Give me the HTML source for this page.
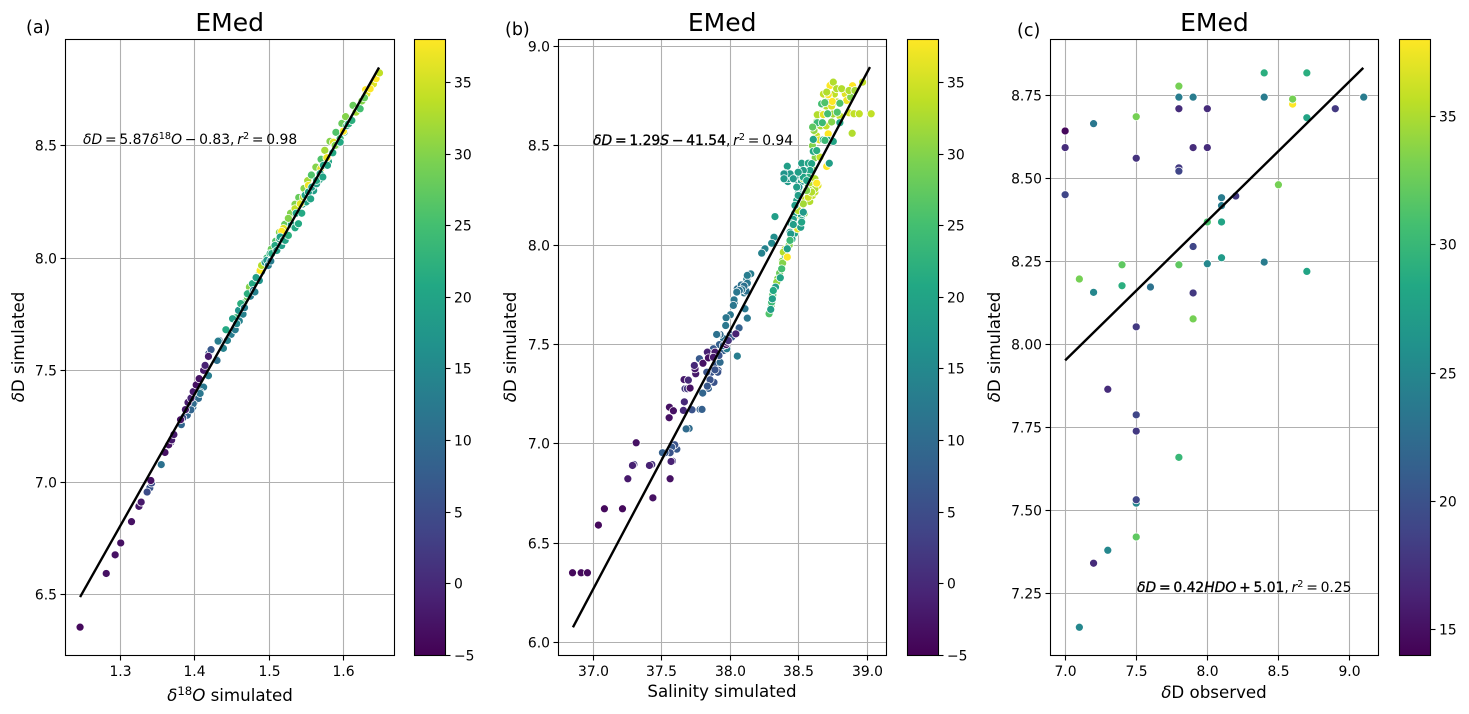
<!DOCTYPE html>
<html lang="en">
<head>
<meta charset="utf-8">
<title>EMed isotope scatter panels</title>
<style>
html,body{margin:0;padding:0;background:#fff;width:1469px;height:714px;overflow:hidden}
svg{display:block;font-family:"DejaVu Sans","Liberation Sans",sans-serif;fill:#000}
.title{font-size:25px;text-anchor:middle}
.axl{font-size:16.67px;text-anchor:middle}
.pl{font-size:17.5px}
.ann{font-size:13.89px;word-spacing:-1.64px}
.b{stroke:#000;stroke-width:.3}
.i{font-style:italic}
.tk{font-size:13.89px}
</style>
</head>
<body>
<svg id="chart" width="1469" height="714" viewBox="0 0 1469 714" xmlns="http://www.w3.org/2000/svg">
<defs>
<linearGradient id="viridis" x1="0" y1="1" x2="0" y2="0"></linearGradient>
</defs>
<g id="layer-marks"></g>

<text class="pl" x="26" y="33">(a)</text>
<text class="pl" x="505" y="35">(b)</text>
<text class="pl" x="1017" y="36">(c)</text>

<text class="title" x="229.7" y="31">EMed</text>
<text class="title" x="722.2" y="31">EMed</text>
<text class="title" x="1214.4" y="31">EMed</text>

<text class="axl" x="230" y="701"><tspan class="i">δ</tspan><tspan dy="-6" font-size="11.7">18</tspan><tspan dy="6" class="i">O</tspan> simulated</text>
<text class="axl" x="722" y="697">Salinity simulated</text>
<text class="axl" x="1214" y="698"><tspan class="i">δ</tspan>D observed</text>

<text class="axl" transform="translate(24,347) rotate(-90)"><tspan class="i">δ</tspan>D simulated</text>
<text class="axl" transform="translate(516,347) rotate(-90)"><tspan class="i">δ</tspan>D simulated</text>
<text class="axl" transform="translate(1000,347) rotate(-90)"><tspan class="i">δ</tspan>D simulated</text>

<text class="ann" x="83" y="144"><tspan class="i">δD</tspan> = 5.87<tspan class="i">δ</tspan><tspan dy="-5" font-size="9.7">18</tspan><tspan dy="5" class="i">O</tspan> − 0.83, <tspan class="i">r</tspan><tspan dy="-5" font-size="9.7">2</tspan><tspan dy="5"> = 0.98</tspan></text>
<text class="ann" x="593" y="145"><tspan class="b"><tspan class="i">δD</tspan> = 1.29<tspan class="i">S</tspan> − 41.54</tspan>, <tspan class="i">r</tspan><tspan dy="-5" font-size="9.7">2</tspan><tspan dy="5"> = 0.94</tspan></text>
<text class="ann" x="1137" y="592"><tspan class="b"><tspan class="i">δD</tspan> = 0.42<tspan class="i">HDO</tspan> + 5.01</tspan>, <tspan class="i">r</tspan><tspan dy="-5" font-size="9.7">2</tspan><tspan dy="5"> = 0.25</tspan></text>
</svg>

<script>
// ---------- Panel (a) data ----------
const aO18 = [
1.456,1.461,1.466,1.471,1.476,1.4815,1.486,1.492,1.497,1.503,
1.509,1.514,1.521,1.529,1.535,1.54,1.547,1.552,1.557,1.563,
1.57,1.575,1.582,1.59,1.598,1.603,1.613,1.625,1.63,1.522,
1.53,1.545,1.55,1.56,1.568,1.58,1.59,1.601,1.503,1.512,
1.49,1.487,1.475,1.465,1.46,1.449,1.4,1.41,1.405,1.39,
1.4736,1.4826,1.5194,1.526,1.535,1.542,1.5463,1.553,1.5697,1.5778,
1.5867,1.589,1.6,1.619,1.617,1.6316,1.6405,1.636,1.644,1.6486,
1.488,1.490,1.517,1.442,1.451,1.459,1.462,1.467,1.470,1.471,
1.4777,1.479,1.481,1.4826,1.4947,1.497,1.499,1.5024,1.5015,1.5038,
1.508,1.5105,1.514,1.515,1.517,1.5194,1.5217,1.526,1.535,1.5396,
1.5365,1.544,1.5486,1.553,1.556,1.5576,1.564,1.564,1.5688,1.5724,
1.5732,1.5786,1.5858,1.5957,1.5957,1.6047,1.607,1.6114,1.6226,1.6284,
1.4545,1.4566,1.444,1.433,1.438,1.4386,1.4315,1.430,1.43,1.4185,
1.412,1.4075,1.4073,1.3975,1.398,1.395,1.382,1.384,1.355,1.422,
1.419,1.422,1.3396,1.336,1.342,1.368,1.2458,1.281,1.293,1.3005,
1.315,1.325,1.328,1.341,1.360,1.365,1.369,1.372,1.381,1.3875,
1.391,1.395,1.398,1.402,1.406,1.412,1.414,1.4185,1.4185];
const aDD = [
7.735,7.765,7.80,7.825,7.86,7.895,7.925,7.965,8.0,8.04,
8.075,8.115,8.15,8.2,8.24,8.27,8.31,8.345,8.37,8.405,
8.44,8.48,8.52,8.56,8.6,8.63,8.68,8.7,8.75,8.11,
8.15,8.24,8.25,8.30,8.35,8.43,8.5,8.56,7.99,8.05,
7.94,7.90,7.83,7.75,7.72,7.66,7.36,7.42,7.375,7.30,
7.871,7.913,8.132,8.177,8.22,8.242,8.272,8.324,8.398,8.447,
8.516,8.502,8.565,8.658,8.65,8.732,8.776,8.754,8.799,8.825,
7.945,7.967,8.119,7.681,7.73,7.767,7.797,7.779,7.841,7.841,
7.886,7.856,7.849,7.913,7.982,7.99,7.967,7.987,8.020,8.02,
8.056,8.034,8.086,8.094,8.056,8.079,8.079,8.101,8.135,8.153,
8.2,8.2,8.28,8.294,8.264,8.316,8.331,8.346,8.376,8.361,
8.413,8.413,8.469,8.532,8.516,8.59,8.598,8.613,8.665,8.714,
7.681,7.708,7.633,7.633,7.602,7.598,7.630,7.548,7.544,7.476,
7.425,7.403,7.397,7.336,7.351,7.324,7.258,7.288,7.080,7.589,
7.574,7.592,6.976,6.958,6.998,7.18,6.356,6.595,6.678,6.731,
6.826,6.894,6.913,7.009,7.134,7.168,7.19,7.214,7.28,7.325,
7.357,7.376,7.405,7.435,7.463,7.500,7.522,7.559,7.562];
const aTemp = [
24,26,24,28,30,32,30,28,24,28,
26,30,28,30,30,28,30,32,26,30,
26,32,30,26,28,30,28,30,38,20,
20,20,20,19,20,20,22,23,15,17,
15,17,13,14,14,13,10,11,10,9,
30,30,36,30,34,36,33,37,36,37,
36,30,38,33,32,36,36,38,38,34,
38,33,38,21,19,17,22,13,16,22,
21,13,14,19,18,18,13,13,22,21,
21,19,21,20,19,22,20,22,21,21,
20,21,20,19,20,19,19,21,21,20,
20,20,21,24,21,22,22,22,25,28,
13,15,14,11,12,14,13,10,11,13,
12,11,12,10,10,9,9,5,11,7,
6,7,6,5,5,2,-4,-3,-3,-3,
-3,-2,-2,-3,-3,-3,-2,-2,-3,-2,
-2,-1,-2,-3,-3,-2,-1,-1,-2];
const aFitX = [1.2458,1.648];
const aFitY = [6.49,8.849];
const aXTicks = [1.3,1.4,1.5,1.6];
const aYTicks = [6.5,7.0,7.5,8.0,8.5];

// ---------- Panel (b) data ----------
const bSal = [
38.29,38.30,38.31,38.325,38.345,38.36,38.38,38.40,38.43,38.44,
38.47,38.49,38.51,38.54,38.55,38.58,38.60,38.64,38.60,38.57,
38.60,38.62,38.60,38.63,38.65,38.66,38.70,38.74,38.70,38.74,
38.76,38.68,38.72,38.78,38.84,38.80,38.75,38.66,38.63,38.68,
38.42,38.44,38.46,38.48,38.50,38.52,38.50,38.48,38.47,38.46,
38.52,38.50,38.47,38.45,38.40,38.05,38.08,38.10,38.12,38.0,
37.9,37.95,37.92,38.0,37.95,37.86,37.88,37.84,37.9,38.03,
38.655,38.601,38.618,38.631,38.618,38.582,38.569,38.533,38.496,38.492,
38.533,38.594,38.618,38.558,38.611,38.635,38.679,38.715,38.635,38.867,
38.903,38.942,39.029,38.89,38.745,38.85,38.879,38.715,38.728,38.893,
38.752,38.704,38.777,38.813,38.867,38.966,38.91,38.704,38.631,38.382,
38.339,38.387,38.416,38.283,38.302,38.375,
38.606,38.631,38.606,38.679,38.715,38.752,38.691,38.601,38.672,38.8,
38.711,38.781,38.667,38.69,38.8,38.723,38.521,38.569,38.594,38.582,
38.569,38.533,38.533,38.558,38.521,38.533,38.514,38.521,38.448,38.436,
38.46,38.441,38.436,38.416,38.416,38.365,38.33,38.314,38.307,38.295,
38.326,38.319,38.302,38.253,38.229,38.472,38.485,38.496,38.501,38.472,
38.448,38.423,38.399,38.399,38.436,38.496,38.46,38.392,38.392,38.496,
38.485,38.472,
38.149,38.124,38.124,38.115,38.1,38.083,38.066,38.047,38.027,38.022,
38.124,38.107,37.969,37.966,38.064,38.051,37.974,37.925,37.908,37.9,
38.01,37.949,37.925,37.917,37.912,37.908,37.888,37.852,37.832,37.828,
37.798,37.779,37.793,37.876,37.774,37.72,37.699,37.677,37.609,37.594,
37.577,37.572,37.56,37.523,37.504,37.426,37.295,
36.847,36.91,36.956,37.036,37.08,37.212,37.434,37.56,37.251,37.285,
37.312,37.409,37.567,37.553,37.555,37.584,37.657,37.664,37.669,37.686,
37.706,37.662,37.693,37.747,37.742,37.737,37.80,37.832,37.84,37.883,
37.888,37.876,37.969,37.974,37.985,38.04];
const bDD = [
7.67,7.70,7.75,7.79,7.83,7.86,7.92,7.98,8.0,8.05,
8.09,8.14,8.21,8.16,8.23,8.22,8.25,8.30,8.33,8.30,
8.38,8.44,8.5,8.55,8.53,8.6,8.6,8.62,8.7,8.7,
8.76,8.76,8.74,8.72,8.76,8.65,8.66,8.66,8.62,8.66,
8.32,8.35,8.35,8.33,8.34,8.32,8.27,8.19,8.16,8.13,
8.15,8.1,8.06,8.03,7.95,7.78,7.8,7.76,7.83,7.65,
7.55,7.53,7.5,7.55,7.47,7.36,7.31,7.28,7.4,7.71,
8.443,8.3,8.267,8.312,8.284,8.275,8.241,8.208,8.174,8.082,
8.334,8.267,8.334,8.275,8.577,8.656,8.657,8.56,8.616,8.666,
8.661,8.661,8.661,8.563,8.723,8.728,8.745,8.757,8.803,8.802,
8.82,8.77,8.787,8.787,8.778,8.82,8.778,8.396,8.312,7.91,
7.814,7.965,7.94,7.655,7.713,7.881,
8.472,8.476,8.532,8.53,8.527,8.522,8.527,8.594,8.616,8.616,
8.661,8.669,8.711,8.717,8.714,8.412,8.412,8.412,8.41,8.376,
8.342,8.376,8.342,8.325,8.124,8.166,8.09,8.116,8.108,8.065,
8.104,8.057,8.024,8.397,7.982,7.836,7.789,7.772,7.73,7.677,
8.144,8.04,8.01,7.982,7.96,8.2,8.225,8.259,8.292,8.342,
8.334,8.334,8.342,8.362,8.359,8.367,8.334,8.359,8.334,8.25,
8.292,8.2,
7.856,7.848,7.809,7.769,7.794,7.776,7.772,7.764,7.725,7.697,
7.633,7.68,7.635,7.596,7.584,7.442,7.479,7.551,7.551,7.551,
7.537,7.495,7.411,7.445,7.37,7.361,7.373,7.323,7.291,7.361,
7.256,7.174,7.174,7.479,7.429,7.172,7.078,7.076,6.974,6.996,
6.914,6.984,6.956,6.956,6.956,6.897,6.897,
6.352,6.352,6.352,6.592,6.674,6.674,6.729,6.825,6.825,6.892,
7.006,6.892,6.912,7.132,7.185,7.167,7.169,7.212,7.278,7.278,
7.281,7.324,7.321,7.353,7.378,7.395,7.406,7.462,7.433,7.454,
7.462,7.436,7.5,7.512,7.52,7.554];
const bTemp = [
27,28,26,28,30,28,30,34,30,36,
36,34,33,30,34,33,34,36,30,26,
28,30,30,34,36,32,34,30,33,36,
34,34,30,34,36,34,32,33,29,28,
18,18,18,18,19,19,19,18,20,19,
20,19,20,19,21,11,11,12,13,12,
10,11,8,8,8,6,6,8,7,12,
34,33,34,38,33,32,35,32,33,36,
33,33,33,30,31,33,36,38,24,35,
34,34,34,33,38,37,30,38,38,38,
33,33,33,33,33,34,32,38,38,30,
31,33,38,26,24,25,
21,22,20,22,20,20,24,27,24,20,
25,26,25,26,26,19,19,20,20,20,
22,19,20,20,20,18,19,20,20,19,
19,18,24,19,19,20,19,21,19,19,
19,16,15,14,14,18,19,17,17,19,
18,18,18,18,18,19,18,17,18,19,
19,19,
13,13,12,11,11,12,11,12,12,12,
12,12,12,12,8,13,13,10,10,11,
7,8,10,6,7,6,6,6,7,6,
9,8,8,7,7,6,10,10,7,6,
2,7,6,7,8,1,2,
-4,-4,-4,-4,-4,-4,-3,-3,-2,-1,
-3,-1,-1,-3,-3,-3,0,0,2,2,
-3,-2,0,-2,-2,0,-3,-1,-3,-3,
-2,-2,-3,-2,1,-1];
const bFitX = [36.85,39.02];
const bFitY = [6.078,8.896];
const bXTicks = [37.0,37.5,38.0,38.5,39.0];
const bYTicks = [6.0,6.5,7.0,7.5,8.0,8.5,9.0];

// ---------- Panel (c) data ----------
const cObs = [
7.0,7.0,7.0,7.2,7.5,7.5,7.8,7.8,7.8,7.8,
7.8,7.9,7.9,8.0,8.0,8.4,8.4,8.7,8.6,8.6,
8.7,8.9,9.1,8.5,8.1,8.1,8.2,8.0,8.1,7.9,
8.1,8.0,8.4,8.7,7.4,7.8,7.1,7.2,7.4,7.6,
7.9,7.9,7.5,7.3,7.5,7.5,7.8,7.5,7.5,7.5,
7.3,7.2,7.1];
const cSim = [
8.644,8.594,8.452,8.666,8.687,8.562,8.779,8.746,8.711,8.533,
8.523,8.746,8.594,8.711,8.594,8.819,8.746,8.819,8.725,8.74,
8.684,8.711,8.746,8.482,8.443,8.419,8.448,8.370,8.37,8.296,
8.262,8.244,8.249,8.221,8.241,8.241,8.198,8.158,8.178,8.174,
8.156,8.078,8.054,7.866,7.789,7.740,7.661,7.523,7.533,7.421,
7.381,7.342,7.149];
const cTemp = [
14.5,17,19,23.5,33,17.5,33,24,17,18,
19,24,17,17,17,29,24,29,38,33,
28,18,24,33,24,24,18,31,28,19,
27,25,24,28,32,32,33,25,29,23,
18,33,18,17,19,18,30,25,19,32,
25,17,25];
const cFitX = [7.0,9.097];
const cFitY = [7.953,8.834];
const cXTicks = [7.0,7.5,8.0,8.5,9.0];
const cYTicks = [7.25,7.5,7.75,8.0,8.25,8.5,8.75];

// ---------- Colorbar ticks ----------
const abBarTicks = [-5,0,5,10,15,20,25,30,35];
const cBarTicks = [15,20,25,30,35];

// ---------- Viridis colormap ----------
const viridis = [[68,1,84],[72,36,117],[65,68,135],[53,95,141],[42,120,142],[33,145,140],[34,168,132],[68,191,112],[122,209,81],[189,223,38],[253,231,37]];

function viridisColor(f){
  const c = Math.max(0, Math.min(1, f)) * (viridis.length - 1);
  const i = Math.min(viridis.length - 2, Math.floor(c));
  const k = c - i;
  const rgb = viridis[i].map((v, j) => Math.round(v + (viridis[i + 1][j] - v) * k));
  return 'rgb(' + rgb.join(',') + ')';
}

const NS = 'http://www.w3.org/2000/svg';
function make(tag, attrs, parent){
  const n = document.createElementNS(NS, tag);
  for (const k in attrs) n.setAttribute(k, attrs[k]);
  parent.appendChild(n);
  return n;
}
function scale(d0, d1, p0, p1){
  return v => p0 + (v - d0) * (p1 - p0) / (d1 - d0);
}
function snap(v){
  return Math.round(v - 0.5) + 0.5;
}
function fmt(v, digits){
  return v.toFixed(digits).replace('-', '\u2212');
}

const grad = document.getElementById('viridis');
viridis.forEach((c, i) => {
  make('stop', {offset: i / (viridis.length - 1), 'stop-color': 'rgb(' + c.join(',') + ')'}, grad);
});

const root = document.getElementById('layer-marks');

function drawPanel(cfg){
  const x = scale(cfg.xDom[0], cfg.xDom[1], cfg.left, cfg.right);
  const y = scale(cfg.yDom[0], cfg.yDom[1], cfg.bottom, cfg.top);
  const g = make('g', {}, root);
  
  

  cfg.xTicks.forEach(t => {
    const px = snap(x(t));
    const gl = make('line', {x1: px, x2: px, y1: cfg.top, y2: cfg.bottom, stroke: '#b0b0b0', 'stroke-width': 1.1}, g);
    
    
  });
  cfg.yTicks.forEach(t => {
    const py = snap(y(t));
    const gl = make('line', {x1: cfg.left, x2: cfg.right, y1: py, y2: py, stroke: '#b0b0b0', 'stroke-width': 1.1}, g);
    
    
  });

  const n = Math.min(cfg.xs.length, cfg.ys.length, cfg.ts.length);
  for (let i = 0; i < n; i++){
    const f = (cfg.ts[i] - cfg.vmin) / (cfg.vmax - cfg.vmin);
    const dot = make('circle', {cx: x(cfg.xs[i]), cy: y(cfg.ys[i]), r: 4.0, fill: viridisColor(f), stroke: '#fff', 'stroke-width': 0.75}, g);
    
    
  }

  const fit = make('line', {x1: x(cfg.fitX[0]), y1: y(cfg.fitY[0]), x2: x(cfg.fitX[1]), y2: y(cfg.fitY[1]), stroke: '#000', 'stroke-width': 2.4}, g);
  
  

  const frame = make('rect', {x: cfg.left, y: cfg.top, width: cfg.right - cfg.left, height: cfg.bottom - cfg.top, fill: 'none', stroke: '#000', 'stroke-width': 1.1}, g);
  
  

  cfg.xTicks.forEach(t => {
    const px = snap(x(t));
    const tk = make('line', {x1: px, x2: px, y1: cfg.bottom, y2: cfg.bottom + 5, stroke: '#000', 'stroke-width': 1.1}, g);
    
    
    const lb = make('text', {x: px, y: cfg.bottom + 20.5, 'text-anchor': 'middle', 'class': 'tk'}, g);
    lb.textContent = fmt(t, 1);
    
    
  });
  cfg.yTicks.forEach(t => {
    const py = snap(y(t));
    const tk = make('line', {x1: cfg.left - 5, x2: cfg.left, y1: py, y2: py, stroke: '#000', 'stroke-width': 1.1}, g);
    
    
    const lb = make('text', {x: cfg.left - 8.5, y: py + 5, 'text-anchor': 'end', 'class': 'tk'}, g);
    lb.textContent = fmt(t, cfg.yDigits);
    
    
  });

  const cb = make('g', {}, g);
  
  
  const bar = make('rect', {x: cfg.barLeft, y: cfg.top, width: cfg.barWidth, height: cfg.bottom - cfg.top, fill: 'url(#viridis)', stroke: '#000', 'stroke-width': 1.1}, cb);
  
  
  const bs = scale(cfg.vmin, cfg.vmax, cfg.bottom, cfg.top);
  cfg.barTicks.forEach(t => {
    const py = snap(bs(t));
    const tk = make('line', {x1: cfg.barLeft + cfg.barWidth, x2: cfg.barLeft + cfg.barWidth + 5, y1: py, y2: py, stroke: '#000', 'stroke-width': 1.1}, cb);
    
    
    const lb = make('text', {x: cfg.barLeft + cfg.barWidth + 8.5, y: py + 5, 'class': 'tk'}, cb);
    lb.textContent = fmt(t, 0);
    
    
  });
}

drawPanel({left:65.5, right:394.5, top:39.5, bottom:655.5,
  xDom:[1.2262,1.6688], yDom:[6.2297,8.9737], yDigits:1,
  xs:aO18, ys:aDD, ts:aTemp, fitX:aFitX, fitY:aFitY, xTicks:aXTicks, yTicks:aYTicks,
  vmin:-5, vmax:38, barLeft:414.5, barWidth:31, barTicks:abBarTicks});

drawPanel({left:558.5, right:886.5, top:39.5, bottom:655.5,
  xDom:[36.7445,39.1409], yDom:[5.936,9.0347], yDigits:1,
  xs:bSal, ys:bDD, ts:bTemp, fitX:bFitX, fitY:bFitY, xTicks:bXTicks, yTicks:bYTicks,
  vmin:-5, vmax:38, barLeft:907.5, barWidth:31, barTicks:abBarTicks});

drawPanel({left:1050.5, right:1378.5, top:39.5, bottom:655.5,
  xDom:[6.897,9.204], yDom:[7.064,8.9196], yDigits:2,
  xs:cObs, ys:cSim, ts:cTemp, fitX:cFitX, fitY:cFitY, xTicks:cXTicks, yTicks:cYTicks,
  vmin:14, vmax:38, barLeft:1399.5, barWidth:31, barTicks:cBarTicks});
</script>
</body>
</html>
